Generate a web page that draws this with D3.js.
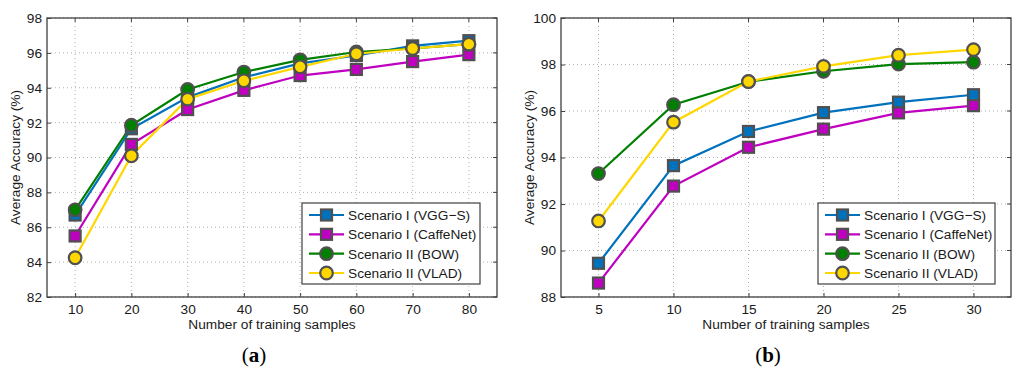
<!DOCTYPE html>
<html>
<head>
<meta charset="utf-8">
<script src="https://cdn.jsdelivr.net/npm/d3@7"></script>
<style>
  body { margin: 0; background: #fff; }
  svg { display: block; font-family: "Liberation Sans", Arial, sans-serif; }
  .grid line { stroke: #b0b0b0; stroke-dasharray: 1,3; }
  .tick text { fill: #1a1a1a; font-size: 13.7px; }
</style>
</head>
<body>
<script>
// ---- data ----
var seriesNames = ["Scenario I (VGG\u2212S)", "Scenario I (CaffeNet)", "Scenario II (BOW)", "Scenario II (VLAD)"];
var seriesColors = ["#0072bd", "#c000c0", "#007f00", "#ffd700"];
var seriesMarkers = ["square", "square", "circle", "circle"];

// panel (a)
var samplesA = [10, 20, 30, 40, 50, 60, 70, 80];
var vggA = [86.7, 91.65, 93.45, 94.6, 95.4, 95.85, 96.4, 96.7];
var caffeA = [85.5, 90.75, 92.75, 93.85, 94.7, 95.05, 95.5, 95.9];
var bowA = [87.0, 91.85, 93.9, 94.9, 95.6, 96.05, 96.25, 96.5];
var vladA = [84.25, 90.1, 93.35, 94.4, 95.2, 95.95, 96.25, 96.5];
var xTicksA = [10, 20, 30, 40, 50, 60, 70, 80];
var yTicksA = [82, 84, 86, 88, 90, 92, 94, 96, 98];

// panel (b)
var samplesB = [5, 10, 15, 20, 25, 30];
var vggB = [89.45, 93.65, 95.12, 95.93, 96.38, 96.7];
var caffeB = [88.6, 92.77, 94.44, 95.22, 95.92, 96.23];
var bowB = [93.31, 96.27, 97.26, 97.71, 98.02, 98.1];
var vladB = [91.27, 95.52, 97.27, 97.92, 98.4, 98.64];
var xTicksB = [5, 10, 15, 20, 25, 30];
var yTicksB = [88, 90, 92, 94, 96, 98, 100];

var W = 1024, H = 383;
var svg = d3.select("body").append("svg").attr("width", W).attr("height", H);

function drawPanel(cfg) {
    var g = svg.append("g");
    var x = d3.scaleLinear().domain(cfg.xDomain).range([cfg.left, cfg.right]);
    var y = d3.scaleLinear().domain(cfg.yDomain).range([cfg.bottom, cfg.top]);

    // dotted grid
    var grid = g.append("g").attr("class", "grid");
    grid.selectAll(".gx").data(cfg.xTicks).enter().append("line")
        .attr("x1", function(d) { return x(d); }).attr("x2", function(d) { return x(d); })
        .attr("y1", cfg.top).attr("y2", cfg.bottom);
    grid.selectAll(".gy").data(cfg.yTicks).enter().append("line")
        .attr("y1", function(d) { return y(d); }).attr("y2", function(d) { return y(d); })
        .attr("x1", cfg.left).attr("x2", cfg.right);

    // axes (ticks inside)
    var xAxis = g.append("g").attr("transform", "translate(0," + cfg.bottom + ")")
        .call(d3.axisBottom(x).tickValues(cfg.xTicks).tickSizeInner(-4).tickSizeOuter(0).tickPadding(7));
    var yAxis = g.append("g").attr("transform", "translate(" + cfg.left + ",0)")
        .call(d3.axisLeft(y).tickValues(cfg.yTicks).tickSizeInner(-4).tickSizeOuter(0).tickPadding(5));
    [xAxis, yAxis].forEach(function(a) {
        a.select(".domain").remove();
        a.selectAll(".tick line").attr("stroke", "#404040");
        a.selectAll(".tick text").attr("font-family", "Liberation Sans, Arial, sans-serif");
    });
    // top/right ticks
    g.selectAll(".tt").data(cfg.xTicks).enter().append("line")
        .attr("x1", function(d) { return x(d); }).attr("x2", function(d) { return x(d); })
        .attr("y1", cfg.top).attr("y2", cfg.top + 4).attr("stroke", "#404040");
    g.selectAll(".rt").data(cfg.yTicks).enter().append("line")
        .attr("y1", function(d) { return y(d); }).attr("y2", function(d) { return y(d); })
        .attr("x1", cfg.right).attr("x2", cfg.right - 4).attr("stroke", "#404040");

    // box
    g.append("rect")
        .attr("x", cfg.left).attr("y", cfg.top)
        .attr("width", cfg.right - cfg.left).attr("height", cfg.bottom - cfg.top)
        .attr("fill", "none").attr("stroke", "#404040").attr("stroke-width", 1.3);

    // labels
    g.append("text")
        .attr("x", (cfg.left + cfg.right) / 2).attr("y", 329)
        .attr("text-anchor", "middle").attr("font-size", 13.7).attr("fill", "#1a1a1a")
        .text("Number of training samples");
    g.append("text")
        .attr("transform", "translate(" + (cfg.left - 27) + "," + ((cfg.top + cfg.bottom) / 2) + ") rotate(-90)")
        .attr("text-anchor", "middle").attr("font-size", 13.7).attr("fill", "#1a1a1a")
        .text("Average Accuracy (%)");

    var line = d3.line()
        .x(function(d) { return x(d[0]); })
        .y(function(d) { return y(d[1]); });

    cfg.series.forEach(function(vals, i) {
        var pts = cfg.samples.map(function(s, j) { return [s, vals[j]]; });
        g.append("path").datum(pts)
            .attr("d", line).attr("fill", "none")
            .attr("stroke", seriesColors[i]).attr("stroke-width", 2.2);
    });
    cfg.series.forEach(function(vals, i) {
        var pts = cfg.samples.map(function(s, j) { return [s, vals[j]]; });
        drawMarkers(g, pts.map(function(p) { return [x(p[0]), y(p[1])]; }), i);
    });

    // legend
    var lg = g.append("g");
    lg.append("rect")
        .attr("x", cfg.legX).attr("y", 203)
        .attr("width", cfg.legW).attr("height", 81)
        .attr("fill", "#fff").attr("stroke", "#404040").attr("stroke-width", 1.2);
    var rowY = d3.scalePoint().domain(d3.range(seriesNames.length)).range([215, 273]);
    seriesNames.forEach(function(name, i) {
        var yy = rowY(i);
        lg.append("line")
            .attr("x1", cfg.legX + 7).attr("x2", cfg.legX + 42)
            .attr("y1", yy).attr("y2", yy)
            .attr("stroke", seriesColors[i]).attr("stroke-width", 2.2);
        drawMarkers(lg, [[cfg.legX + 24.5, yy]], i);
        lg.append("text")
            .attr("x", cfg.legX + 46).attr("y", yy + 5)
            .attr("font-size", 13.7).attr("fill", "#1a1a1a")
            .text(name);
    });

    svg.append("text")
        .attr("x", (cfg.left + cfg.right) / 2 - 18).attr("y", 362)
        .attr("text-anchor", "middle")
        .attr("font-family", "Liberation Serif, Times New Roman, serif")
        .attr("font-size", 21).attr("fill", "#000")
        .html(cfg.tag);
}

function drawMarkers(g, pts, i) {
    var sel = g.selectAll(null).data(pts).enter();
    if (seriesMarkers[i] === "square") {
        sel.append("rect")
            .attr("x", function(d) { return d[0] - 5.5; })
            .attr("y", function(d) { return d[1] - 5.5; })
            .attr("width", 11).attr("height", 11)
            .attr("fill", seriesColors[i]).attr("stroke", "#505050").attr("stroke-width", 2.2);
    } else {
        sel.append("circle")
            .attr("cx", function(d) { return d[0]; })
            .attr("cy", function(d) { return d[1]; })
            .attr("r", 6.3)
            .attr("fill", seriesColors[i]).attr("stroke", "#505050").attr("stroke-width", 2.2);
    }
}

drawPanel({
    left: 47, right: 497, top: 18, bottom: 297,
    xDomain: [5, 85], yDomain: [82, 98],
    xTicks: xTicksA, yTicks: yTicksA,
    samples: samplesA, series: [vggA, caffeA, bowA, vladA],
    legX: 302, legW: 178,
    tag: "(<tspan font-weight='bold'>a</tspan>)"
});
drawPanel({
    left: 561, right: 1011, top: 18, bottom: 297,
    xDomain: [2.5, 32.5], yDomain: [88, 100],
    xTicks: xTicksB, yTicks: yTicksB,
    samples: samplesB, series: [vggB, caffeB, bowB, vladB],
    legX: 818, legW: 177,
    tag: "(<tspan font-weight='bold'>b</tspan>)"
});
</script>
</body>
</html>
